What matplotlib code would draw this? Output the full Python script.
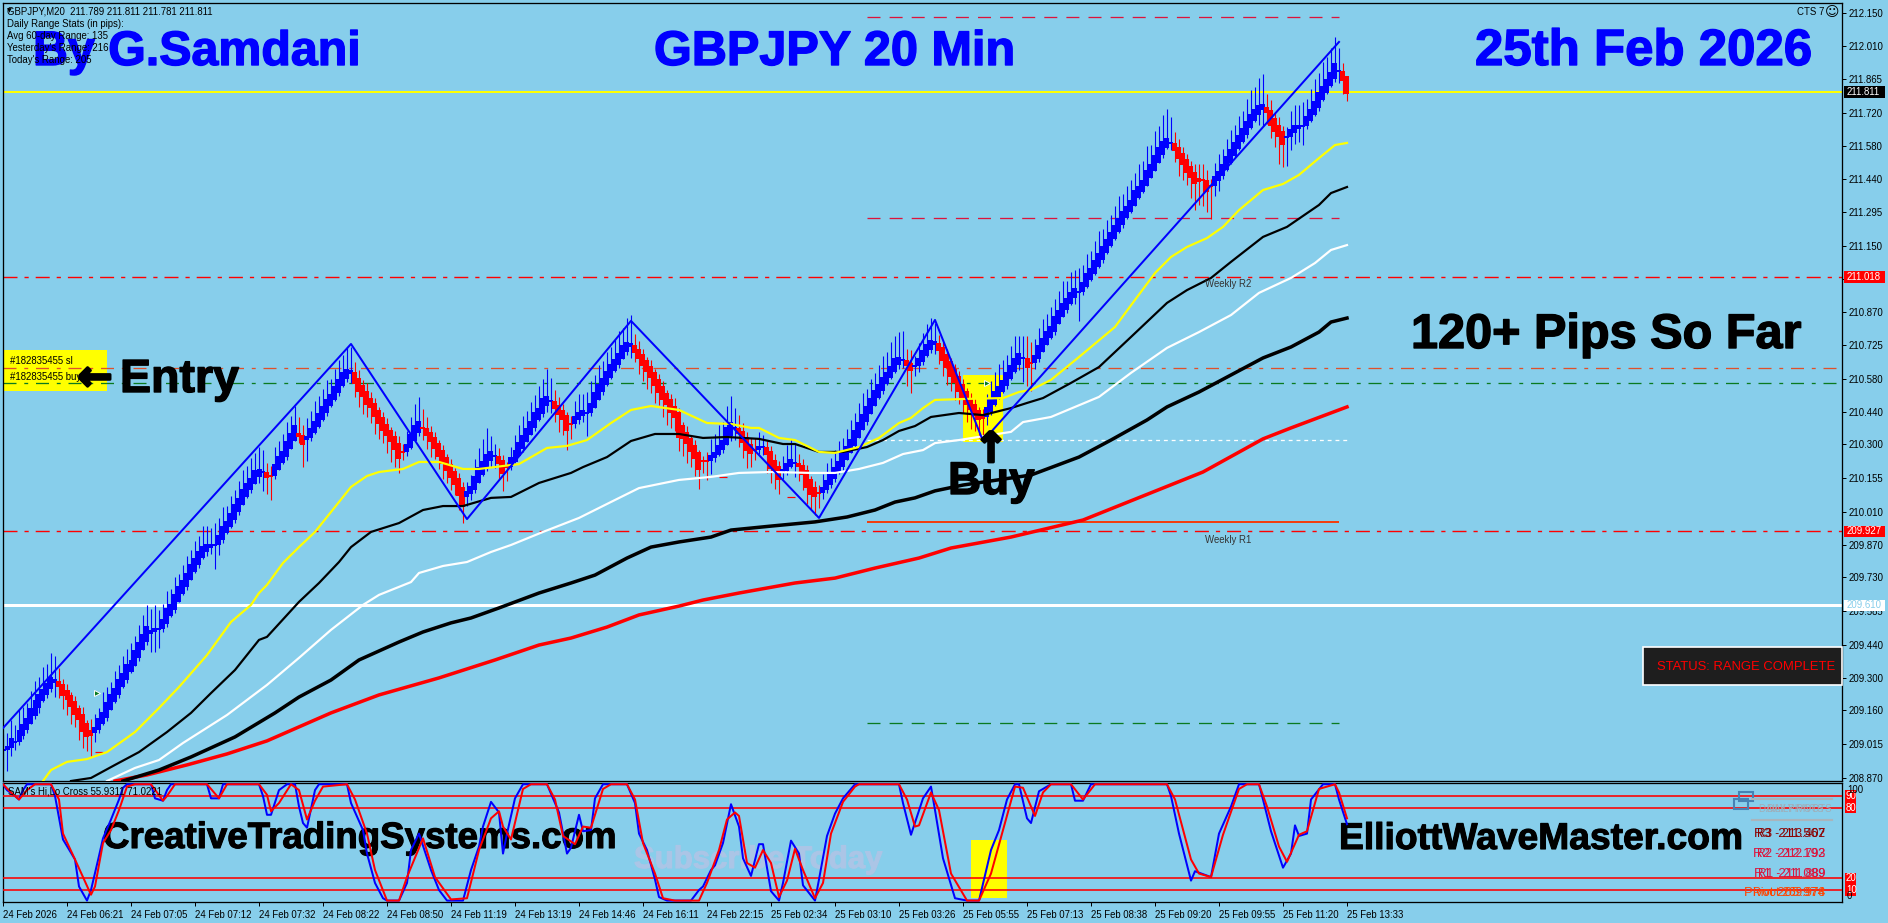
import numpy as np
import matplotlib
matplotlib.use('Agg')
import matplotlib.pyplot as plt
import matplotlib.patheffects as pe
from matplotlib.lines import Line2D
from matplotlib.patches import Rectangle
from matplotlib.transforms import blended_transform_factory

W, H = 1888, 923
SMALL = 'Liberation Sans'
plt.rcParams['font.family'] = [SMALL, 'DejaVu Sans']
plt.rcParams['font.size'] = 6.9

# centre of each bar's body
bar_mid = [
    208.990, 208.998, 209.020, 209.024, 209.050, 209.076, 209.101, 209.136, 209.170, 209.200, 209.226, 209.251, 209.277, 209.286, 209.273, 209.247,
    209.226, 209.200, 209.170, 209.144, 209.106, 209.076, 209.063, 209.076, 209.101, 209.127, 209.162, 209.196, 209.226, 209.260, 209.290, 209.325,
    209.350, 209.384, 209.419, 209.453, 209.487, 209.496, 209.505, 209.509, 209.530, 209.565, 209.590, 209.625, 209.659, 209.689, 209.719, 209.753,
    209.783, 209.813, 209.839, 209.856, 209.865, 209.869, 209.890, 209.920, 209.946, 209.976, 210.010, 210.041, 210.075, 210.105, 210.131, 210.161,
    210.178, 210.182, 210.169, 210.165, 210.191, 210.221, 210.246, 210.281, 210.315, 210.349, 210.341, 210.319, 210.328, 210.349, 210.375, 210.405,
    210.435, 210.465, 210.491, 210.521, 210.551, 210.581, 210.602, 210.611, 210.585, 210.555, 210.529, 210.499, 210.478, 210.448, 210.418, 210.388,
    210.362, 210.336, 210.306, 210.272, 210.268, 210.285, 210.315, 210.349, 210.375, 210.371, 210.354, 210.332, 210.306, 210.276, 210.246, 210.216,
    210.186, 210.156, 210.118, 210.075, 210.088, 210.105, 210.135, 210.169, 210.199, 210.229, 210.251, 210.251, 210.234, 210.204, 210.204, 210.225,
    210.251, 210.281, 210.311, 210.341, 210.371, 210.405, 210.431, 210.465, 210.487, 210.487, 210.469, 210.448, 210.426, 210.392, 210.388, 210.405,
    210.422, 210.435, 210.435, 210.456, 210.491, 210.525, 210.555, 210.585, 210.615, 210.641, 210.667, 210.697, 210.718, 210.727, 210.709, 210.688,
    210.662, 210.637, 210.611, 210.581, 210.551, 210.521, 210.495, 210.465, 210.439, 210.384, 210.354, 210.328, 210.298, 210.268, 210.229, 210.229,
    210.229, 210.242, 210.255, 210.276, 210.298, 210.336, 210.366, 210.371, 210.358, 210.332, 210.302, 210.281, 210.276, 210.285, 210.289, 210.272,
    210.234, 210.208, 210.178, 210.186, 210.204, 210.221, 210.221, 210.212, 210.191, 210.152, 210.118, 210.096, 210.092, 210.105, 210.126, 210.152,
    210.178, 210.204, 210.234, 210.264, 210.294, 210.328, 210.362, 210.396, 210.431, 210.465, 210.499, 210.529, 210.559, 210.585, 210.611, 210.641,
    210.658, 210.662, 210.649, 210.632, 210.637, 210.654, 210.679, 210.705, 210.727, 210.735, 210.718, 210.688, 210.658, 210.624, 210.594, 210.559,
    210.529, 210.499, 210.474, 210.448, 210.426, 210.418, 210.439, 210.469, 210.499, 210.525, 210.551, 210.581, 210.611, 210.641, 210.667, 210.671,
    210.649, 210.649, 210.667, 210.697, 210.727, 210.757, 210.782, 210.817, 210.847, 210.877, 210.902, 210.928, 210.950, 210.954, 210.975, 211.005,
    211.031, 211.061, 211.091, 211.121, 211.151, 211.181, 211.211, 211.241, 211.271, 211.297, 211.323, 211.357, 211.383, 211.408, 211.443, 211.473,
    211.507, 211.541, 211.571, 211.593, 211.593, 211.576, 211.550, 211.524, 211.494, 211.468, 211.443, 211.434, 211.434, 211.408, 211.408, 211.430,
    211.451, 211.477, 211.507, 211.537, 211.567, 211.597, 211.627, 211.657, 211.687, 211.713, 211.734, 211.747, 211.734, 211.700, 211.670, 211.644,
    211.614, 211.619, 211.636, 211.653, 211.661, 211.666, 211.687, 211.713, 211.743, 211.777, 211.807, 211.837, 211.867, 211.902, 211.902, 211.880,
    211.841,
]
# wick lengths in pips, above the body and below it
wick_up = [
    7, 6, 8, 7, 9, 8, 7, 8, 9, 8, 10, 9, 11, 10, 6, 3,
    3, 2, 3, 2, 4, 2, 5, 6, 5, 9, 7, 6, 8, 7, 8, 7,
    8, 7, 8, 9, 10, 9, 10, 8, 7, 8, 7, 8, 6, 7, 8, 7,
    8, 7, 9, 8, 7, 9, 8, 9, 7, 8, 7, 8, 9, 8, 9, 8,
    10, 9, 4, 4, 8, 7, 8, 9, 8, 9, 7, 5, 8, 8, 9, 8,
    8, 9, 7, 8, 9, 8, 10, 10, 5, 4, 3, 4, 3, 3, 2, 3,
    3, 2, 3, 4, 3, 6, 8, 10, 11, 8, 5, 3, 3, 2, 3, 2,
    3, 2, 3, 3, 4, 5, 8, 9, 10, 12, 7, 5, 4, 3, 2, 5,
    7, 8, 9, 8, 9, 8, 10, 9, 12, 10, 5, 4, 3, 2, 3, 7,
    8, 7, 9, 10, 8, 9, 8, 9, 8, 9, 10, 8, 11, 12, 5, 4,
    3, 2, 3, 2, 3, 3, 2, 3, 4, 3, 2, 3, 2, 3, 2, 2,
    4, 7, 8, 9, 8, 10, 12, 8, 6, 4, 3, 3, 5, 6, 5, 3,
    3, 3, 3, 6, 8, 9, 8, 4, 3, 3, 2, 3, 3, 6, 8, 7,
    8, 9, 7, 8, 9, 8, 9, 10, 8, 9, 8, 9, 10, 9, 11, 10,
    11, 12, 5, 6, 4, 7, 8, 9, 10, 8, 4, 3, 3, 2, 3, 3,
    3, 2, 3, 3, 2, 3, 6, 8, 9, 10, 9, 8, 9, 10, 8, 9,
    10, 9, 7, 8, 9, 8, 9, 8, 9, 10, 8, 9, 8, 10, 8, 9,
    8, 9, 10, 8, 9, 8, 9, 10, 8, 9, 9, 8, 10, 9, 11, 9,
    11, 10, 12, 13, 11, 5, 4, 3, 3, 3, 4, 6, 7, 5, 3, 6,
    8, 7, 8, 9, 8, 9, 8, 10, 11, 10, 12, 13, 6, 5, 3, 4,
    3, 4, 8, 9, 9, 10, 8, 9, 10, 9, 11, 10, 11, 12, 10, 4,
    1,
]
wick_down = [
    8, 9, 4, 3, 2, 2, 2, 1, 2, 3, 1, 2, 2, 6, 5, 6,
    7, 8, 6, 9, 8, 7, 9, 4, 2, 1, 2, 1, 1, 2, 1, 2,
    1, 1, 2, 1, 2, 8, 9, 8, 2, 2, 1, 2, 1, 1, 2, 1,
    1, 2, 1, 2, 3, 10, 5, 2, 1, 1, 2, 2, 1, 1, 2, 1,
    3, 8, 7, 10, 2, 1, 1, 2, 1, 1, 3, 10, 9, 2, 1, 1,
    1, 2, 1, 1, 2, 1, 2, 4, 6, 7, 8, 6, 7, 8, 7, 6,
    8, 9, 8, 7, 3, 2, 1, 1, 2, 5, 6, 7, 5, 6, 7, 6,
    6, 5, 7, 8, 4, 3, 2, 1, 1, 2, 3, 5, 7, 8, 6, 2,
    1, 1, 2, 1, 1, 2, 1, 2, 3, 5, 6, 8, 7, 9, 6, 2,
    2, 3, 10, 2, 1, 1, 2, 1, 1, 1, 2, 1, 2, 5, 4, 7,
    7, 8, 7, 8, 6, 8, 9, 7, 6, 7, 8, 9, 7, 8, 9, 5,
    8, 6, 2, 1, 2, 1, 3, 5, 6, 7, 8, 6, 4, 2, 3, 8,
    7, 8, 7, 3, 2, 1, 6, 6, 7, 8, 7, 8, 6, 3, 2, 2,
    2, 1, 2, 1, 1, 2, 1, 1, 2, 1, 1, 1, 2, 1, 1, 1,
    2, 3, 9, 10, 4, 3, 2, 1, 2, 4, 6, 7, 8, 7, 8, 6,
    7, 8, 9, 7, 8, 8, 4, 2, 1, 1, 1, 2, 1, 1, 3, 10,
    8, 12, 3, 2, 1, 1, 1, 2, 1, 1, 2, 1, 3, 12, 2, 1,
    1, 1, 1, 2, 1, 1, 1, 1, 2, 1, 1, 1, 1, 1, 1, 1,
    1, 1, 2, 1, 3, 5, 8, 7, 6, 9, 12, 10, 11, 9, 14, 5,
    5, 2, 1, 1, 1, 1, 1, 2, 1, 1, 5, 7, 5, 6, 7, 12,
    10, 12, 6, 5, 6, 8, 2, 1, 1, 2, 1, 1, 1, 2, 5, 6,
    4,
]

yellow_bar = [10, 12, 16, 21, 26, 33, 39, 44, 51, 57, 62, 64, 66, 70, 74, 78, 83, 87, 91, 94, 100, 104, 109, 115, 119, 129, 136, 141, 146, 152, 157, 162, 169, 176, 182, 187, 189, 194, 198, 204, 208, 214, 219, 224, 227, 230, 233, 240, 250, 254, 257, 262, 269, 278, 283, 288, 292, 296, 301, 305, 309, 315, 320, 324, 329, 333, 336]
yellow_val = [208.857, 208.904, 208.939, 208.951, 208.981, 209.067, 209.170, 209.260, 209.397, 209.539, 209.612, 209.663, 209.698, 209.792, 209.860, 209.925, 210.032, 210.118, 210.165, 210.182, 210.195, 210.225, 210.225, 210.195, 210.195, 210.216, 210.285, 210.294, 210.319, 210.392, 210.448, 210.465, 210.448, 210.392, 210.388, 210.371, 210.371, 210.328, 210.319, 210.268, 210.264, 210.289, 210.328, 210.392, 210.414, 210.456, 210.491, 210.495, 210.499, 210.525, 210.534, 210.577, 210.675, 210.804, 210.920, 211.035, 211.104, 211.147, 211.185, 211.233, 211.305, 211.391, 211.417, 211.456, 211.528, 211.584, 211.593]

black_bar = [17, 22, 28, 34, 41, 47, 52, 58, 64, 66, 74, 79, 84, 87, 92, 99, 105, 110, 115, 122, 127, 134, 142, 145, 151, 157, 163, 169, 175, 181, 189, 195, 198, 204, 210, 216, 220, 224, 228, 232, 239, 245, 252, 256, 260, 267, 274, 282, 291, 296, 302, 307, 315, 321, 329, 332, 336]
black_val = [208.857, 208.870, 208.926, 208.981, 209.067, 209.149, 209.234, 209.333, 209.462, 209.475, 209.625, 209.706, 209.796, 209.860, 209.925, 209.963, 210.019, 210.036, 210.036, 210.071, 210.075, 210.135, 210.178, 210.203, 210.246, 210.315, 210.345, 210.345, 210.328, 210.332, 210.324, 210.302, 210.302, 210.268, 210.268, 210.289, 210.319, 210.358, 210.379, 210.418, 210.435, 210.426, 210.456, 210.478, 210.499, 210.564, 210.632, 210.761, 210.907, 210.962, 211.014, 211.083, 211.190, 211.233, 211.327, 211.378, 211.404]

white_bar = [26, 33, 39, 45, 56, 66, 74, 82, 90, 94, 102, 104, 110, 116, 122, 127, 135, 144, 153, 159, 169, 177, 184, 192, 202, 208, 214, 220, 225, 230, 233, 239, 252, 255, 262, 268, 274, 282, 291, 299, 307, 314, 322, 328, 332, 336]
white_val = [208.857, 208.913, 208.947, 209.020, 209.140, 209.269, 209.385, 209.505, 209.612, 209.655, 209.710, 209.749, 209.779, 209.796, 209.839, 209.869, 209.925, 209.985, 210.062, 210.113, 210.148, 210.161, 210.178, 210.182, 210.178, 210.178, 210.195, 210.221, 210.259, 210.276, 210.306, 210.319, 210.354, 210.396, 210.418, 210.461, 210.504, 210.607, 210.714, 210.782, 210.855, 210.950, 211.014, 211.078, 211.134, 211.155]

slow_black_bar = [30, 39, 47, 58, 68, 74, 82, 89, 99, 105, 112, 117, 124, 134, 142, 148, 156, 162, 169, 177, 182, 192, 203, 211, 218, 223, 228, 233, 240, 257, 269, 277, 286, 291, 299, 307, 315, 322, 329, 332, 336]
slow_black_val = [208.857, 208.904, 208.960, 209.046, 209.149, 209.217, 209.290, 209.376, 209.453, 209.496, 209.535, 209.556, 209.599, 209.663, 209.706, 209.740, 209.813, 209.860, 209.882, 209.903, 209.933, 209.950, 209.968, 209.989, 210.019, 210.053, 210.071, 210.101, 210.126, 210.169, 210.246, 210.319, 210.405, 210.461, 210.525, 210.598, 210.671, 210.718, 210.782, 210.825, 210.842]

slow_red_bar = [28, 36, 46, 56, 66, 74, 82, 94, 109, 123, 134, 142, 151, 159, 169, 175, 184, 198, 208, 218, 229, 237, 252, 270, 285, 300, 315, 322, 336]
slow_red_val = [208.857, 208.883, 208.926, 208.973, 209.029, 209.089, 209.149, 209.226, 209.299, 209.376, 209.440, 209.470, 209.517, 209.569, 209.607, 209.633, 209.663, 209.706, 209.727, 209.770, 209.813, 209.856, 209.903, 209.976, 210.079, 210.182, 210.324, 210.371, 210.461]

zigzag_bar = [0, 87, 116, 157, 204, 233, 245, 334]
zigzag_val = [209.084, 210.731, 209.980, 210.830, 209.985, 210.834, 210.315, 212.026]

cross_fast_bar = [0, 1, 3, 4, 5, 6, 12, 13, 15, 18, 19, 21, 22, 24, 25, 27, 29, 30, 31, 37, 38, 40, 41, 42, 51, 52, 54, 55, 64, 65, 66, 67, 69, 71, 73, 74, 75, 76, 78, 79, 86, 87, 90, 91, 93, 95, 96, 99, 101, 102, 104, 107, 109, 111, 115, 117, 119, 120, 122, 124, 125, 126, 128, 130, 136, 139, 141, 142, 144, 145, 147, 148, 150, 156, 158, 159, 161, 163, 164, 166, 172, 174, 175, 177, 178, 180, 182, 184, 185, 187, 189, 190, 192, 194, 195, 197, 199, 200, 203, 204, 206, 208, 210, 213, 224, 225, 227, 230, 232, 233, 235, 238, 241, 244, 247, 249, 251, 253, 254, 256, 257, 259, 262, 267, 268, 270, 272, 291, 292, 294, 297, 298, 302, 304, 307, 309, 314, 315, 317, 320, 322, 323, 324, 326, 327, 330, 333, 334, 336]
cross_fast_val = [100, 95, 90, 87, 95, 100, 100, 90, 53, 36, 13, 1, 10, 39, 54, 70, 87, 97, 100, 100, 88, 86, 95, 100, 100, 88, 88, 100, 100, 90, 74, 74, 95, 100, 100, 81, 67, 63, 95, 100, 100, 84, 61, 41, 16, 3, 1, 1, 16, 44, 58, 27, 10, 1, 1, 27, 47, 64, 85, 76, 41, 58, 88, 100, 100, 76, 41, 46, 74, 60, 61, 88, 100, 100, 84, 58, 44, 19, 4, 1, 1, 10, 13, 27, 31, 50, 83, 64, 37, 22, 49, 49, 9, 1, 16, 52, 41, 14, 1, 19, 56, 75, 88, 100, 100, 84, 57, 88, 98, 78, 37, 3, 1, 1, 44, 61, 87, 100, 100, 71, 67, 94, 100, 100, 86, 86, 100, 100, 90, 58, 18, 26, 21, 58, 81, 100, 100, 87, 60, 29, 41, 65, 56, 58, 87, 100, 100, 87, 66]

cross_slow_bar = [0, 2, 4, 6, 8, 12, 14, 15, 18, 22, 23, 25, 27, 29, 31, 33, 37, 40, 41, 43, 51, 54, 56, 64, 66, 67, 69, 72, 74, 76, 78, 80, 86, 88, 91, 93, 96, 99, 101, 105, 108, 112, 116, 119, 122, 124, 125, 127, 130, 132, 136, 138, 140, 143, 145, 147, 150, 152, 156, 158, 160, 163, 165, 168, 174, 176, 179, 181, 183, 184, 186, 188, 190, 192, 194, 196, 198, 200, 203, 205, 207, 210, 213, 214, 224, 226, 228, 229, 232, 234, 237, 241, 244, 247, 250, 253, 255, 258, 260, 262, 267, 270, 273, 291, 293, 297, 299, 302, 305, 309, 311, 314, 316, 319, 321, 324, 326, 329, 333, 334, 336]
cross_slow_val = [100, 93, 87, 95, 100, 100, 87, 58, 36, 6, 13, 50, 61, 78, 98, 100, 100, 86, 90, 100, 100, 88, 100, 100, 91, 77, 84, 100, 95, 70, 86, 98, 100, 87, 58, 27, 1, 1, 21, 54, 21, 2, 3, 44, 71, 77, 64, 53, 96, 100, 100, 87, 56, 49, 64, 63, 96, 100, 100, 87, 50, 24, 3, 1, 1, 16, 44, 70, 76, 73, 33, 29, 44, 33, 4, 18, 45, 27, 3, 16, 58, 85, 98, 100, 100, 87, 64, 65, 93, 78, 24, 1, 1, 24, 61, 98, 97, 73, 93, 100, 100, 87, 100, 100, 87, 36, 24, 21, 57, 96, 100, 100, 81, 47, 34, 57, 60, 96, 100, 93, 71]

price_ticks = [212.150, 212.010, 211.865, 211.720, 211.580, 211.440, 211.295, 211.150, 211.010, 210.870, 210.725, 210.580, 210.440, 210.300, 210.155, 210.010, 209.870, 209.730, 209.585, 209.440, 209.300, 209.160, 209.015, 208.870]
date_labels = ['24 Feb 2026', '24 Feb 06:21', '24 Feb 07:05', '24 Feb 07:12', '24 Feb 07:32', '24 Feb 08:22', '24 Feb 08:50', '24 Feb 11:19', '24 Feb 13:19', '24 Feb 14:46', '24 Feb 16:11', '24 Feb 22:15', '25 Feb 02:34', '25 Feb 03:10', '25 Feb 03:26', '25 Feb 05:55', '25 Feb 07:13', '25 Feb 08:38', '25 Feb 09:20', '25 Feb 09:55', '25 Feb 11:20', '25 Feb 13:33']

SKY = '#87ceeb'
px = 0.72  # one pixel in points at dpi 100

fig = plt.figure(figsize=(W / 100, H / 100), dpi=100, facecolor=SKY)
ax = fig.add_axes([3 / W, 1 - 781 / H, (1842 - 3) / W, (781 - 3) / H], facecolor=SKY)
sub = fig.add_axes([3 / W, 1 - 902 / H, (1842 - 3) / W, (902 - 783) / H], facecolor=SKY)

ax.set_xlim(0, 459.75)
ax.set_ylim(208.857, 212.193)
sub.set_xlim(0, 459.75)
sub.set_ylim(-0.2, 101.06)

# highlight boxes
ax.add_patch(Rectangle((0, 210.529), 26, 0.176, fc='#ffff00', ec='none', zorder=1))
ax.add_patch(Rectangle((240, 210.311), 10, 0.287, fc='#ffff00', ec='none', zorder=1))

# level lines
ax.axhline(211.811, color='#ffff00', lw=2 * px, zorder=1.5)
ax.axhline(209.610, color='white', lw=3 * px, zorder=1.5)
for level in [211.018, 209.927]:
    ax.axhline(level, color='#ff0000', lw=1.4 * px, ls=(0, (10, 5, 3, 5)), zorder=1.5)
ax.hlines(210.628, 0, 458.3, color='#e0502a', lw=1.3 * px, ls=(0, (10, 6, 3, 6)), zorder=1.5)
ax.hlines(210.564, 0, 458.3, color='#0a7a20', lw=1.3 * px, ls=(0, (10, 6, 3, 6)), zorder=1.5)
ax.hlines(210.319, 216, 336, color='white', lw=1.3 * px, ls=(0, (3, 3)), zorder=1.5)
ax.hlines(212.133, 216, 334, color='#dc143c', lw=1.3 * px, ls=(0, (10, 7)), zorder=1.5)
ax.hlines(211.271, 216, 334, color='#dc143c', lw=1.3 * px, ls=(0, (10, 7)), zorder=1.5)
ax.hlines(209.106, 216, 334, color='#0a7a20', lw=1.3 * px, ls=(0, (10, 7)), zorder=1.5)
ax.hlines(209.968, 216, 334, color='#f04010', lw=2 * px, zorder=1.5)

# short closed-order dashes
ax.hlines([208.981, 210.161, 210.075], [23, 179, 196], [25, 181, 198], color='#ff0000', lw=1.2 * px, zorder=1.6)

# candles
mid = np.array(bar_mid)
bars = np.arange(len(mid))
delta = np.diff(mid, prepend=mid[0])
half = np.maximum(np.abs(delta), 0.004)
rising = np.zeros(len(mid), dtype=bool)
last = True
for i, d in enumerate(delta):
    if d != 0:
        last = d > 0
    rising[i] = last
colors = np.where(rising, '#0000ff', '#ff0000')
top = mid + half
bottom = mid - half
wick_base = 0.75 * np.abs(delta)
ax.vlines(bars, mid - wick_base - np.array(wick_down) * 0.01, mid + wick_base + np.array(wick_up) * 0.01, colors=colors, lw=1.1 * px, zorder=2)
ax.bar(bars, top - bottom, bottom=bottom, width=1.25, color=colors, linewidth=0, zorder=2.1)

# moving averages
ax.plot(slow_red_bar, slow_red_val, color='#ff0000', lw=3.5 * px, zorder=3)
ax.plot(slow_black_bar, slow_black_val, color='black', lw=3.5 * px, zorder=3)
ax.plot(white_bar, white_val, color='white', lw=2.2 * px, zorder=3)
ax.plot(black_bar, black_val, color='black', lw=2.2 * px, zorder=3)
ax.plot(yellow_bar, yellow_val, color='#ffff00', lw=2.2 * px, zorder=3)
ax.plot(zigzag_bar, zigzag_val, color='#0000ff', lw=2 * px, zorder=3.2)

# trade arrows
ax.plot([23.5, 246], [209.234, 210.564], ls='none', marker='>', ms=5, mfc='#0a7a20', mec='white', mew=0.7, zorder=3.4)

ax.xaxis.set_visible(False)
ax.yaxis.tick_right()
ax.set_yticks(price_ticks)
ax.set_yticklabels(['%.3f' % p for p in price_ticks])
ax.tick_params(axis='y', length=3, width=px, pad=2, labelsize=6.9)
for spine in ax.spines.values():
    spine.set_linewidth(1.3 * px)

# oscillator pane
for level in [90, 80, 20, 10]:
    sub.axhline(level, color='#ff0000', lw=1.6 * px, zorder=2.6)
sub.add_patch(Rectangle((242, 3), 9, 49.5, fc='#ffff00', ec='none', zorder=1))
sub.plot(cross_fast_bar, cross_fast_val, color='#0000ff', lw=2 * px, zorder=3)
sub.plot(cross_slow_bar, cross_slow_val, color='#ff0000', lw=2 * px, zorder=3.1)
sub.yaxis.set_visible(False)
sub.set_xticks(np.arange(len(date_labels)) * 16)
sub.set_xticklabels(date_labels, ha='left')
sub.tick_params(axis='x', length=3, width=px, pad=3, labelsize=6.9)
for spine in sub.spines.values():
    spine.set_linewidth(1.3 * px)


def put(x, y, s, **kw):
    kw.setdefault('va', 'center')
    kw.setdefault('ha', 'left')
    kw.setdefault('zorder', 4)
    return fig.text(x / W, 1 - y / H, s, **kw)


def heavy(x, y, s, size, color):
    # the reference type is heavier and wider than Liberation bold
    t = put(x, y, s, family='Liberation Sans', weight='bold', va='baseline', fontsize=size, color=color, zorder=3)
    t.set_path_effects([pe.withStroke(linewidth=1.0, foreground=color)])
    return t


def behind_lines(x, y, s, size, color, z):
    t = sub.text(x / W, 1 - y / H, s, transform=fig.transFigure, family='Liberation Sans', weight='bold',
                 va='baseline', ha='left', fontsize=size, color=color, zorder=z, clip_on=False)
    t.set_path_effects([pe.withStroke(linewidth=0.8, foreground=color)])
    return t


def box(x0, y0, x1, y1, **kw):
    fig.add_artist(Rectangle((x0 / W, 1 - y1 / H), (x1 - x0) / W, (y1 - y0) / H, transform=fig.transFigure, **kw))


def price_tag(level, fc, tc, target=ax, x0=1844, x1=1885, height=0.048):
    tr = blended_transform_factory(fig.transFigure, target.transData)
    target.add_patch(Rectangle((x0 / W, level - height / 2), (x1 - x0) / W, height, transform=tr, fc=fc, ec='none', clip_on=False, zorder=10))
    text = '%.3f' % level if target is ax else '%d' % level
    target.text((x0 + 3 if target is ax else x0 + 1) / W, level, text, transform=tr, color=tc, va='center', ha='left', fontsize=6.9, clip_on=False, zorder=11)


price_tag(211.811, 'black', 'white')
price_tag(211.018, '#ff0000', 'white')
price_tag(209.927, '#ff0000', 'white')
price_tag(209.610, 'white', '#87ceeb')
for level in [90, 80, 20, 10]:
    price_tag(level, '#ff0000', 'white', target=sub, x0=1845, x1=1856, height=9.4)
put(1847, 790, '100', fontsize=6.9)
put(1847, 896, '0', fontsize=6.9)

# chart header text
put(9, 11, '\u25bc', fontsize=4.5, family='DejaVu Sans', ha='center')
put(7, 11, 'GBPJPY,M20  211.789 211.811 211.781 211.811', fontsize=6.9)
put(7, 24, 'Daily Range Stats (in pips):', fontsize=6.9)
put(7, 36, 'Avg 60-day Range: 135', fontsize=6.9)
put(7, 48, "Yesterday's Range: 216", fontsize=6.9)
put(7, 60, "Today's Range: 205", fontsize=6.9)
put(1797, 12, 'CTS 7', fontsize=6.9)
put(1825, 12, '\u263a', fontsize=10, family='DejaVu Sans')
put(10, 361, '#182835455 sl', fontsize=6.9)
put(10, 377, '#182835455 buy', fontsize=6.9)
put(1228, 284, 'Weekly R2', fontsize=6.9, ha='center', color='#333333')
put(1228, 540, 'Weekly R1', fontsize=6.9, ha='center', color='#333333')
put(8, 792, "SAM's Hi,Lo Cross 55.9311 71.0221", fontsize=6.9)

# big overlays
heavy(33, 65, 'By G.Samdani', 34.8, '#0000ff')
heavy(654, 65, 'GBPJPY 20 Min', 35, '#0000ff')
heavy(1475, 65, '25th Feb 2026', 36.7, '#0000ff')
heavy(1411, 348, '120+ Pips So Far', 35, 'black')
heavy(120, 392, 'Entry', 33.5, 'black')
heavy(948, 494, 'Buy', 33, 'black')
for x, y, arrow in [(95, 378, '\u2190'), (991, 450, '\u2191')]:
    t = put(x, y, arrow, color='black', family='DejaVu Sans', weight='bold', fontsize=30, ha='center', zorder=3)
    t.set_path_effects([pe.withStroke(linewidth=2.0, foreground='black')])

behind_lines(634, 868, 'Subscribe Today', 22.4, '#abc5e6', 1.2)
behind_lines(103, 848, 'CreativeTradingSystems.com', 26.4, 'black', 2.4)
behind_lines(1339, 849, 'ElliottWaveMaster.com', 26.8, 'black', 2.4)

# status box
box(1643, 647, 1842, 685, fc='#1e1e1e', ec='white', lw=1.2)
put(1657, 667, 'STATUS: RANGE COMPLETE', color='#ff0000', fontsize=9.4)

# daily pivots panel, two overlapping copies
for y in [799, 820]:
    fig.add_artist(Line2D([1752 / W, 1832 / W], [1 - y / H, 1 - y / H], color='#a9b4bc', lw=1.5))
box(1739, 792, 1753, 801, fc='none', ec='#4682b4', lw=1.5)
box(1734, 799, 1748, 809, fc='none', ec='#4682b4', lw=1.5)
put(1832, 809, 'DAILY PIVOTS', ha='right', color='#a0aeb8', fontsize=6.9)
put(1824, 809, 'DAILY PIVOTS', ha='right', color='#a0aeb8', fontsize=6.9)
pivot_rows = [(834, '#8b0000', 'R3 - 213.402', 'R3  211.567'),
              (854, '#dc143c', 'R2 - 212.792', 'R2  212.193'),
              (874, '#dc143c', 'R1 - 211.889', 'R1  211.089'),
              (893, '#ff4500', 'Pivot 209.978', 'Pivot 205.974')]
for y, color, first, second in pivot_rows:
    put(1825, y, first, ha='right', color=color, fontsize=8.5)
    put(1825, y, second, ha='right', color=color, fontsize=9.5)

fig.savefig('out.png', dpi=100, facecolor=SKY)
